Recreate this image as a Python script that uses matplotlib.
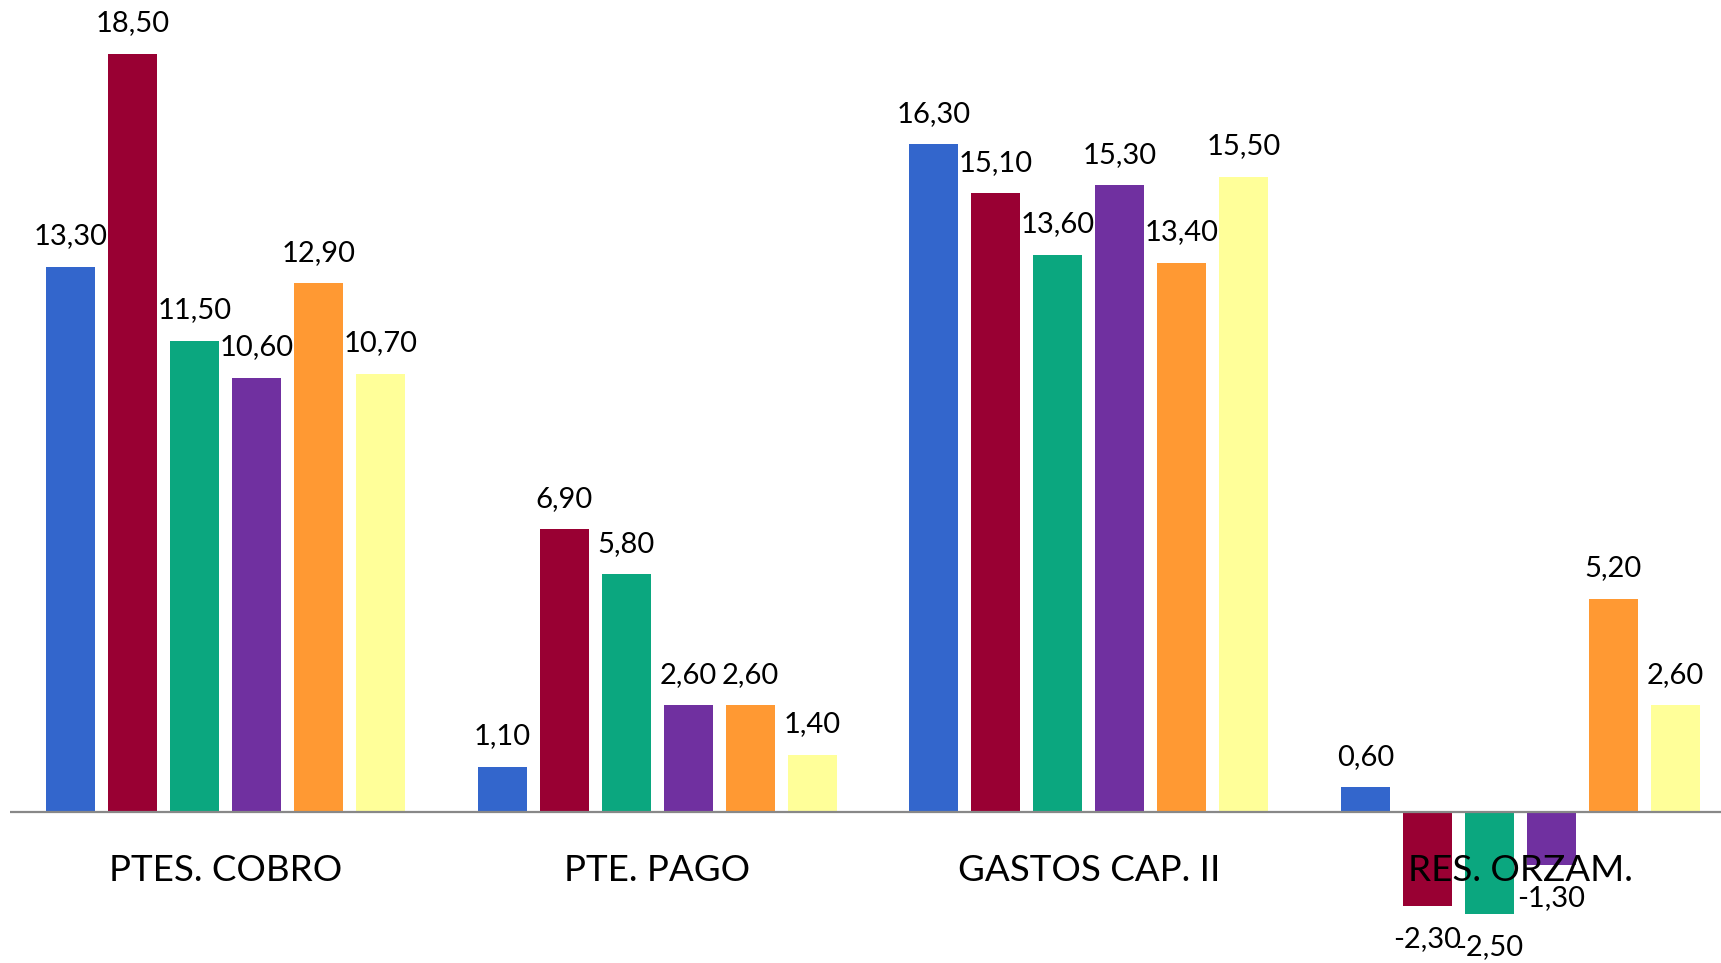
import matplotlib
matplotlib.use("Agg")
import matplotlib.pyplot as plt
import numpy as np

categories = ["PTES. COBRO", "PTE. PAGO", "GASTOS CAP. II", "RES. ORZAM."]
series_names = ["Serie 1", "Serie 2", "Serie 3", "Serie 4", "Serie 5", "Serie 6"]
values = [
    [13.30, 1.10, 16.30, 0.60],
    [18.50, 6.90, 15.10, -2.30],
    [11.50, 5.80, 13.60, -2.50],
    [10.60, 2.60, 15.30, -1.30],
    [12.90, 2.60, 13.40, 5.20],
    [10.70, 1.40, 15.50, 2.60],
]
colors = ["#3366CC", "#990033", "#0BA77F", "#7030A0", "#FF9933", "#FFFF99"]

plt.rcParams['font.family'] = ['Lato', 'DejaVu Sans']

W, H = 1721, 963
fig = plt.figure(figsize=(W / 100, H / 100), dpi=100)
ax = fig.add_axes([10 / W, 0, (W - 10) / W, 1])

slot = 62 / 431.5
bar_w = 49 / 431.5
x = np.arange(len(categories))

for i, (name, vals) in enumerate(zip(series_names, values)):
    pos = x + (i - 2.5) * slot
    ax.bar(pos, vals, width=bar_w, color=colors[i], label=name, zorder=2)
    for px, v in zip(pos, vals):
        off = 22 if v >= 0 else -23.5
        ax.annotate(f"{v:.2f}".replace(".", ","), (px, v), xytext=(0, off),
                    textcoords="offset points", ha="center", va="center",
                    fontsize=21, zorder=4)

ax.axhline(0, color="#888888", linewidth=1.6, zorder=3)

for xi, cat in zip(x, categories):
    ax.text(xi, -1.42, cat, ha="center", va="center", fontsize=26.5, zorder=5)

ax.set_xlim(-0.5, -0.5 + (W - 10) / 431.5)
ax.set_ylim(-(H - 812) / 40.97, 812 / 40.97)
ax.axis("off")

fig.savefig("out.png", dpi=100)
